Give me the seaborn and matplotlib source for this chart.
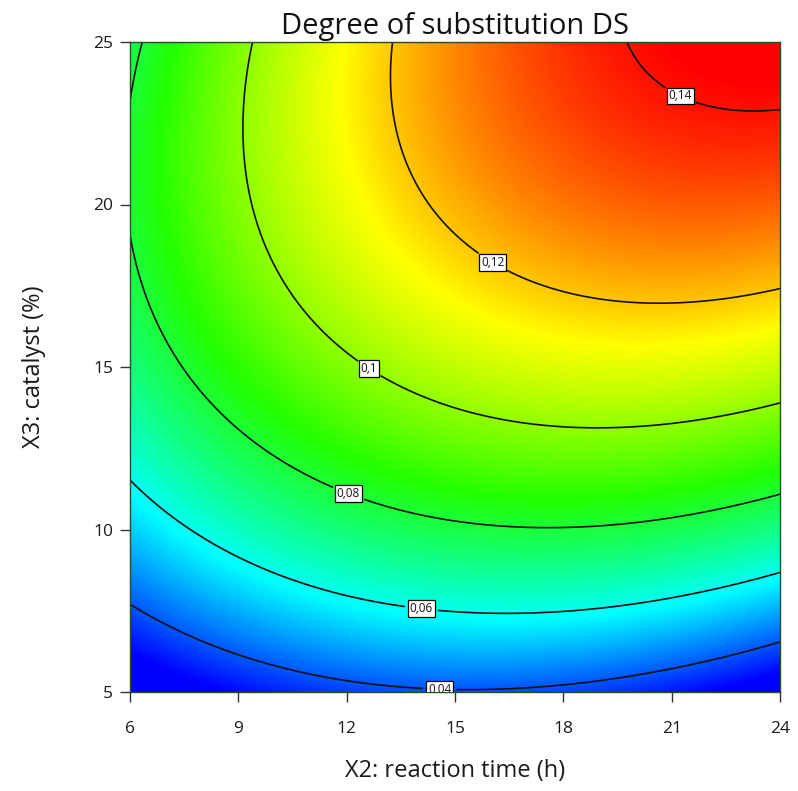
import numpy as np
import pandas as pd
import seaborn as sns
import matplotlib.pyplot as plt
from matplotlib.colors import LinearSegmentedColormap

# contour points: reaction time (h), catalyst (%), DS level
level_040_x2 = [6, 9, 12, 15, 21, 24]
level_040_x3 = [7.55, 6.05, 5.37, 5.05, 5.74, 6.63]
level_060_x2 = [6, 9, 12, 15, 18, 21, 24]
level_060_x3 = [11.37, 9.31, 8.45, 7.58, 7.43, 7.68, 8.72]
level_080_x2 = [6, 6.75, 7.94, 9, 12, 15, 18, 21, 24, 6.36, 6]
level_080_x3 = [18.8, 17.06, 13.98, 13.15, 10.9, 10.35, 10.0, 10.23, 11.12, 25, 23.1]
level_100_x2 = [9.38, 9.1, 10.07, 11.26, 12.65, 15, 18.8, 21, 24]
level_100_x3 = [25, 22.2, 18.08, 16.05, 15.0, 13.62, 13.06, 13.22, 13.92]
level_120_x2 = [13.14, 13.48, 14.86, 16.08, 18.1, 20.1, 24]
level_120_x3 = [25, 21.37, 19.62, 18.29, 17.28, 16.94, 17.46]
level_140_x2 = [19.65, 19.93, 21.31, 21.78, 24]
level_140_x3 = [25, 24.66, 23.52, 23.12, 22.97]

levels = [0.04, 0.06, 0.08, 0.1, 0.12, 0.14]
label_x2 = [14.58, 14.09, 12.09, 12.65, 16.08, 21.31]
label_x3 = [5.31, 7.77, 11.22, 15.0, 18.29, 23.52]

# colour scale ends (blue -> red)
ds_low = 0.03
ds_high = 0.142

pts = pd.concat([
    pd.DataFrame({'x2': a, 'x3': b, 'ds': lv})
    for a, b, lv in [
        (level_040_x2, level_040_x3, 0.04),
        (level_060_x2, level_060_x3, 0.06),
        (level_080_x2, level_080_x3, 0.08),
        (level_100_x2, level_100_x3, 0.10),
        (level_120_x2, level_120_x3, 0.12),
        (level_140_x2, level_140_x3, 0.14),
    ]
], ignore_index=True)


def terms(x, y):
    return np.stack([np.ones_like(x), x, y, x * x, y * y, x * y], axis=-1)


# quadratic response surface through the read contour points
coef, *_ = np.linalg.lstsq(terms(pts.x2.values, pts.x3.values), pts.ds.values, rcond=None)

gx = np.linspace(6, 24, 300)
gy = np.linspace(5, 25, 300)
GX, GY = np.meshgrid(gx, gy)
Z = terms(GX, GY) @ coef

sns.set_theme(style='white')
plt.rcParams['font.family'] = ['Open Sans', 'DejaVu Sans']

cmap = LinearSegmentedColormap.from_list(
    'de', ['#0000ff', '#00ffff', '#22ff00', '#ffff00', '#ff0000'])

fig = plt.figure(figsize=(7.98, 7.91), dpi=100)
ax = fig.add_axes([130 / 798, 1 - 692 / 791, 650 / 798, 650 / 791])
ax.imshow(Z, origin='lower', extent=[6, 24, 5, 25], aspect='auto',
          cmap=cmap, vmin=ds_low, vmax=ds_high, interpolation='bilinear')
cs = ax.contour(GX, GY, Z, levels=levels, colors='#111111', linewidths=1.2)
texts = ax.clabel(cs, levels, inline=True, fontsize=8.5,
                  fmt=lambda v: f'{v:g}'.replace('.', ','),
                  manual=list(zip(label_x2, label_x3)))
for t in texts:
    t.set_rotation(0)
    t.set_bbox(dict(facecolor='white', edgecolor='black', linewidth=0.9, pad=1.3))

ax.set_xlim(6, 24)
ax.set_ylim(5, 25)
ax.set_xticks([6, 9, 12, 15, 18, 21, 24])
ax.set_yticks([5, 10, 15, 20, 25])
ax.tick_params(axis='both', which='both', direction='out', length=7, width=1,
               color='#333333', labelsize=12.5, labelcolor='#1a1a1a', pad=5,
               bottom=True, left=True, top=False, right=False)
ax.tick_params(axis='x', pad=14)
for s in ax.spines.values():
    s.set_color('#2b4a2b')
    s.set_linewidth(1.0)

ax.set_xlabel('X2: reaction time (h)', fontsize=17, color='#1a1a1a', labelpad=16)
ax.set_ylabel('X3: catalyst (%)', fontsize=17, color='#1a1a1a', labelpad=34)
ax.set_title('Degree of substitution DS', fontsize=21, color='#111111', pad=6)

fig.savefig('out.png', dpi=100)
plt.close(fig)
